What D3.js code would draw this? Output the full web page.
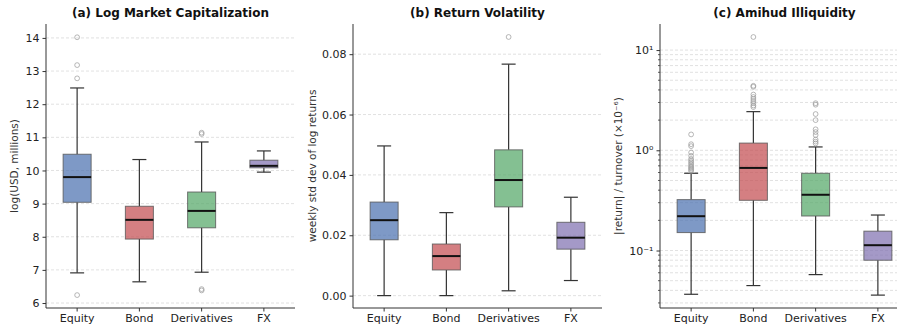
<!DOCTYPE html>
<html>
<head>
<meta charset="utf-8">
<script src="https://cdn.jsdelivr.net/npm/d3@7"></script>
<style>
  body { margin: 0; background: #fff; }
  text { font-family: "DejaVu Sans", sans-serif; }
</style>
</head>
<body>
<script>
var categories = ["Equity", "Bond", "Derivatives", "FX"];
var colors = ["#4C72B0", "#C44E52", "#55A868", "#8172B2"];

// box stats per category: [whiskerLow, q1, median, q3, whiskerHigh]
var capStats = [[6.91, 9.04, 9.8, 10.49, 12.49], [6.64, 7.93, 8.51, 8.92, 10.33], [6.93, 8.27, 8.78, 9.35, 10.86], [9.95, 10.08, 10.14, 10.31, 10.59]];
var capOutliers = [[14.02, 13.18, 12.78, 6.24], [], [11.14, 11.1, 6.42, 6.38], []];

var volStats = [[0.0, 0.0185, 0.025, 0.031, 0.0496], [0.0, 0.0085, 0.0131, 0.0171, 0.0275], [0.0016, 0.0294, 0.0383, 0.0483, 0.0767], [0.005, 0.0154, 0.0192, 0.0243, 0.0326]];
var volOutliers = [[], [], [0.0857], []];

var amiStats = [[0.0366, 0.151, 0.22, 0.322, 0.59], [0.0447, 0.317, 0.667, 1.18, 2.43], [0.0575, 0.221, 0.36, 0.59, 1.08], [0.0359, 0.080, 0.113, 0.156, 0.226]];
var amiOutliers = [
  [1.44, 1.15, 1.1, 0.95, 0.88, 0.82, 0.79, 0.76, 0.73, 0.7, 0.68, 0.66, 0.64, 0.62],
  [13.5, 4.4, 4.3, 3.6, 3.4, 3.25, 3.1, 2.95, 2.8, 2.7],
  [2.95, 2.85, 2.3, 2.0, 1.62, 1.52, 1.42, 1.28, 1.22, 1.17],
  []
];

var capTicks = [6, 7, 8, 9, 10, 11, 12, 13, 14];
var volTicks = [0.00, 0.02, 0.04, 0.06, 0.08];
var amiTicks = [0.1, 1, 10];

var W = 897, H = 331;
var svg = d3.select("body").append("svg").attr("width", W).attr("height", H);

var topY = 24, bottomY = 308, pw = 249;

function panel(opts) {
    var g = svg.append("g");
    var x = d3.scaleBand().domain(categories).range([opts.left, opts.left + pw]).padding(0);
    var y = opts.log ? d3.scaleLog().domain(opts.domain).range([bottomY, topY])
                     : d3.scaleLinear().domain(opts.domain).range([bottomY, topY]);

    // grid
    var gridVals = opts.grid || opts.ticks;
    g.selectAll(".grid").data(gridVals).enter().append("line")
        .attr("x1", opts.left).attr("x2", opts.left + pw)
        .attr("y1", d => y(d)).attr("y2", d => y(d))
        .attr("stroke", "#d9d9d9").attr("stroke-width", 0.8)
        .attr("stroke-dasharray", "3,2");

    // boxes
    var bw = x.bandwidth() * 0.45;
    opts.stats.forEach(function(s, i) {
        var cx = x(categories[i]) + x.bandwidth() / 2;
        var gg = g.append("g");
        gg.append("line").attr("x1", cx).attr("x2", cx).attr("y1", y(s[0])).attr("y2", y(s[1]))
            .attr("stroke", "#333").attr("stroke-width", 1.2);
        gg.append("line").attr("x1", cx).attr("x2", cx).attr("y1", y(s[3])).attr("y2", y(s[4]))
            .attr("stroke", "#333").attr("stroke-width", 1.2);
        [s[0], s[4]].forEach(function(v) {
            gg.append("line").attr("x1", cx - bw / 4).attr("x2", cx + bw / 4)
                .attr("y1", y(v)).attr("y2", y(v))
                .attr("stroke", "#333").attr("stroke-width", 1.2);
        });
        gg.append("rect").attr("x", cx - bw / 2).attr("width", bw)
            .attr("y", y(s[3])).attr("height", y(s[1]) - y(s[3]))
            .attr("fill", colors[i]).attr("fill-opacity", 0.72)
            .attr("stroke", "#555").attr("stroke-opacity", 0.8).attr("stroke-width", 1);
        gg.append("line").attr("x1", cx - bw / 2).attr("x2", cx + bw / 2)
            .attr("y1", y(s[2])).attr("y2", y(s[2]))
            .attr("stroke", "#111").attr("stroke-width", 2);
        gg.selectAll("circle").data(opts.outliers[i]).enter().append("circle")
            .attr("cx", cx).attr("cy", d => y(d)).attr("r", 2.4)
            .attr("fill", "none").attr("stroke", "#999").attr("stroke-opacity", 0.7).attr("stroke-width", 1);
    });

    // axes
    var ya = d3.axisLeft(y).tickValues(opts.ticks).tickSize(3.5).tickPadding(3).tickFormat(opts.fmt);
    var yg = g.append("g").attr("transform", "translate(" + opts.left + ",0)").call(ya);
    if (opts.log) {
        g.selectAll(".minor").data(opts.grid.filter(v => opts.ticks.indexOf(v) < 0)).enter().append("line")
            .attr("x1", opts.left - 2).attr("x2", opts.left)
            .attr("y1", d => y(d)).attr("y2", d => y(d)).attr("stroke", "#333").attr("stroke-width", 0.8);
    }
    var xa = d3.axisBottom(x).tickSize(3.5).tickPadding(3);
    var xg = g.append("g").attr("transform", "translate(0," + bottomY + ")").call(xa);
    [yg, xg].forEach(function(a) {
        a.select(".domain").attr("stroke", "#333");
        a.selectAll(".tick line").attr("stroke", "#333");
        a.selectAll("text").attr("font-size", 11).attr("fill", "#222")
            .style("font-family", "DejaVu Sans, sans-serif");
    });
    yg.select(".domain").attr("d", "M0," + topY + "V" + bottomY);
    xg.select(".domain").attr("d", "M" + opts.left + ",0H" + (opts.left + pw));

    g.append("text").attr("x", opts.left + pw / 2).attr("y", 17)
        .attr("text-anchor", "middle").attr("font-weight", "bold").attr("font-size", 12)
        .attr("fill", "#111").text(opts.title);
    g.append("text").attr("transform", "translate(" + opts.ylx + "," + ((topY + bottomY) / 2) + ") rotate(-90)")
        .attr("text-anchor", "middle").attr("font-size", 10.5).attr("fill", "#333").text(opts.ylabel);
}

panel({left: 46, domain: [5.85, 14.42], ticks: capTicks, fmt: d3.format("d"),
    stats: capStats, outliers: capOutliers, title: "(a) Log Market Capitalization",
    ylabel: "log(USD, millions)", ylx: 18});

panel({left: 353, domain: [-0.0041, 0.09], ticks: volTicks, fmt: d3.format(".2f"),
    stats: volStats, outliers: volOutliers, title: "(b) Return Volatility",
    ylabel: "weekly std dev of log returns", ylx: 316});

var minorGrid = [];
[0.01, 0.1, 1, 10].forEach(function(d) { for (var k = 1; k < 10; k++) { var v = d * k; if (v > 0.0267 && v < 18.2) minorGrid.push(+v.toPrecision(3)); } });
var sup = {"-1": "\u207B\u00B9", "0": "\u2070", "1": "\u00B9"};
panel({left: 660, domain: [0.0267, 18.2], log: true, ticks: amiTicks, grid: minorGrid,
    fmt: d => "10" + sup[Math.round(Math.log10(d))],
    stats: amiStats, outliers: amiOutliers, title: "(c) Amihud Illiquidity",
    ylabel: "|return| / turnover (\u00D710\u207B\u2076)", ylx: 622});
</script>
</body>
</html>
